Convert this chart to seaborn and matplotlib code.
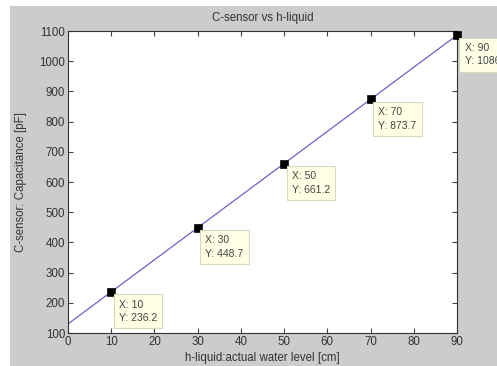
import matplotlib
matplotlib.use("Agg")
import matplotlib.pyplot as plt
import seaborn as sns
import pandas as pd
from matplotlib.patches import Rectangle

# Data
line_x = [0, 10, 20, 30, 40, 50, 60, 70, 80, 90]
line_y = [130.0, 236.2, 342.5, 448.7, 555.0, 661.2, 767.5, 873.7, 980.0, 1086.2]
point_x = [10, 30, 50, 70, 90]
point_y = [236.2, 448.7, 661.2, 873.7, 1086.2]
tip_labels = ["X: 10\nY: 236.2", "X: 30\nY: 448.7", "X: 50\nY: 661.2",
              "X: 70\nY: 873.7", "X: 90\nY: 1086"]
x_ticks = [0, 10, 20, 30, 40, 50, 60, 70, 80, 90]
y_ticks = [100, 200, 300, 400, 500, 600, 700, 800, 900, 1000, 1100]

sns.set_style("ticks")
plt.rcParams['font.family'] = ['Liberation Sans', 'DejaVu Sans']

W, H = 497, 366
fig = plt.figure(figsize=(W / 100, H / 100), dpi=100, facecolor="white")
fig.patches.append(Rectangle((10 / W, 0), 1, (H - 6) / H, transform=fig.transFigure,
                             facecolor="#cccccc", edgecolor="none", zorder=-10))

ax = fig.add_axes([68 / W, 1 - 333 / H, (457 - 68) / W, (333 - 31) / H])
ax.set_facecolor("white")

df_line = pd.DataFrame({"x": line_x, "y": line_y})
df_pts = pd.DataFrame({"x": point_x, "y": point_y})
sns.lineplot(data=df_line, x="x", y="y", ax=ax, color="#6a62c8", linewidth=0.9)
sns.scatterplot(data=df_pts, x="x", y="y", ax=ax, marker="s", s=34, color="black",
                edgecolor="black", zorder=5, clip_on=False)

ax.set_xlim(0, 90)
ax.set_ylim(100, 1100)
ax.set_xticks(x_ticks)
ax.set_yticks(y_ticks)
txtc = "#333333"
ax.tick_params(direction="in", length=3.5, width=0.8, top=True, right=True,
               labelsize=8.3, colors="#444444", labelcolor=txtc, pad=2)
for s in ax.spines.values():
    s.set_color("#333333")
    s.set_linewidth(0.8)

ax.set_title("C-sensor vs h-liquid", fontsize=8.3, color=txtc, pad=7)
ax.set_xlabel("h-liquid:actual water level [cm]", fontsize=8.3, color=txtc, labelpad=3)
ax.set_ylabel("C-sensor: Capacitance [pF]", fontsize=8.3, color=txtc, labelpad=9)

for x, y, lab in zip(point_x, point_y, tip_labels):
    ax.annotate(lab, xy=(x, y), xytext=(5.5, -5.5), textcoords="offset points",
                ha="left", va="top", fontsize=7.5, color="#444444", linespacing=1.45,
                annotation_clip=False, zorder=6,
                bbox=dict(boxstyle="square,pad=0.5", facecolor="#ffffe6",
                          edgecolor="#d8d8c0", linewidth=0.8))

fig.savefig("out.png", dpi=100, facecolor=fig.get_facecolor())
